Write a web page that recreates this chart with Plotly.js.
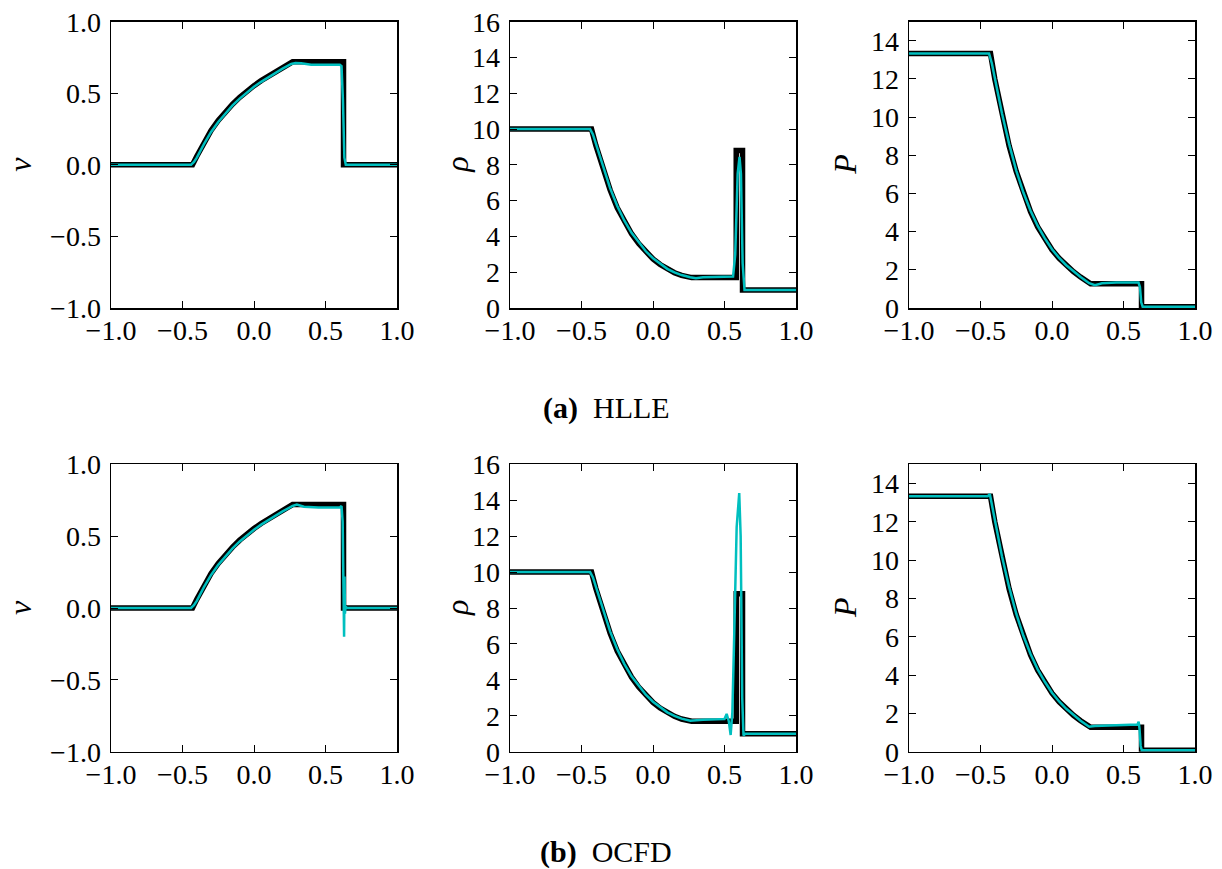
<!DOCTYPE html>
<html>
<head>
<meta charset="utf-8">
<script src="https://cdn.plot.ly/plotly-3.0.1.min.js"></script>
<style>html,body{margin:0;padding:0;background:#fff;}#chart{width:1222px;height:869px;}</style>
</head>
<body>
<div id="chart"></div>
<script>
// ---------- data ----------
// exact solution (black, thick) - same in both rows
const exactX   = [-1.0, -0.43, -0.40, -0.35, -0.30, -0.25, -0.20, -0.15, -0.10, -0.05, 0.0, 0.05, 0.10, 0.15, 0.20, 0.27, 0.582, 0.582, 0.626, 0.626, 1.0];
const exactV   = [0, 0, 0.06, 0.155, 0.24, 0.31, 0.37, 0.424, 0.472, 0.515, 0.553, 0.588, 0.62, 0.65, 0.679, 0.72, 0.72, 0.72, 0.72, 0, 0];
const exactRho = [10, 10, 9.1, 7.8, 6.6, 5.6, 4.8, 4.15, 3.6, 3.12, 2.74, 2.43, 2.17, 1.97, 1.82, 1.70, 1.70, 8.8, 8.8, 1.0, 1.0];
const exactP   = [13.33, 13.33, 12.0, 10.1, 8.5, 7.15, 6.0, 5.05, 4.25, 3.6, 3.05, 2.6, 2.22, 1.9, 1.62, 1.27, 1.27, 1.27, 1.27, 0.07, 0.07];

// HLLE numerical solution (cyan)
const hlleVX   = [-1.0, -0.44, -0.42, -0.40, -0.35, -0.30, -0.25, -0.20, -0.15, -0.10, -0.05, 0.0, 0.05, 0.10, 0.15, 0.20, 0.26, 0.29, 0.33, 0.40, 0.60, 0.612, 0.622, 0.632, 0.642, 1.0];
const hlleV    = [0, 0, 0.02, 0.05, 0.145, 0.23, 0.30, 0.36, 0.415, 0.463, 0.506, 0.545, 0.58, 0.612, 0.643, 0.672, 0.705, 0.712, 0.71, 0.70, 0.70, 0.69, 0.45, 0.05, 0, 0];
const hlleRhoX = [-1.0, -0.44, -0.42, -0.40, -0.35, -0.30, -0.25, -0.20, -0.15, -0.10, -0.05, 0.0, 0.05, 0.10, 0.15, 0.20, 0.26, 0.30, 0.35, 0.45, 0.56, 0.575, 0.592, 0.605, 0.615, 0.627, 0.64, 1.0];
const hlleRho  = [10, 10, 9.7, 9.2, 7.9, 6.7, 5.7, 4.88, 4.2, 3.65, 3.17, 2.78, 2.46, 2.19, 1.99, 1.84, 1.72, 1.66, 1.72, 1.74, 1.76, 3.0, 7.5, 8.45, 7.5, 2.5, 1.0, 1.0];
const hllePX   = [-1.0, -0.44, -0.42, -0.40, -0.35, -0.30, -0.25, -0.20, -0.15, -0.10, -0.05, 0.0, 0.05, 0.10, 0.15, 0.20, 0.26, 0.30, 0.35, 0.45, 0.605, 0.615, 0.624, 0.634, 1.0];
const hlleP    = [13.33, 13.33, 12.8, 12.0, 10.2, 8.6, 7.2, 6.05, 5.1, 4.3, 3.65, 3.08, 2.62, 2.24, 1.91, 1.62, 1.3, 1.2, 1.3, 1.33, 1.33, 1.1, 0.3, 0.07, 0.07];

// OCFD numerical solution (cyan)
const ocfdVX   = [-1.0, -0.44, -0.42, -0.40, -0.35, -0.30, -0.25, -0.20, -0.15, -0.10, -0.05, 0.0, 0.05, 0.10, 0.15, 0.20, 0.27, 0.30, 0.35, 0.45, 0.60, 0.612, 0.62, 0.627, 0.630, 0.633, 0.636, 0.64, 0.65, 1.0];
const ocfdV    = [0, 0, 0.02, 0.05, 0.145, 0.23, 0.30, 0.36, 0.415, 0.463, 0.506, 0.545, 0.58, 0.612, 0.643, 0.672, 0.71, 0.72, 0.705, 0.70, 0.70, 0.71, 0.6, 0.05, -0.2, 0.22, -0.04, 0.01, 0, 0];
const ocfdRhoX = [-1.0, -0.44, -0.42, -0.40, -0.35, -0.30, -0.25, -0.20, -0.15, -0.10, -0.05, 0.0, 0.05, 0.10, 0.15, 0.20, 0.26, 0.30, 0.35, 0.45, 0.50, 0.515, 0.530, 0.543, 0.555, 0.568, 0.585, 0.603, 0.613, 0.624, 0.633, 0.645, 1.0];
const ocfdRho  = [10, 10, 9.7, 9.2, 7.9, 6.7, 5.7, 4.88, 4.2, 3.65, 3.17, 2.78, 2.46, 2.19, 1.99, 1.84, 1.72, 1.75, 1.78, 1.8, 1.82, 2.1, 1.7, 0.93, 2.2, 6.5, 12.5, 14.4, 12.0, 3.0, 0.9, 1.0, 1.0];
const ocfdPX   = [-1.0, -0.45, -0.435, -0.42, -0.40, -0.35, -0.30, -0.25, -0.20, -0.15, -0.10, -0.05, 0.0, 0.05, 0.10, 0.15, 0.20, 0.26, 0.30, 0.40, 0.55, 0.598, 0.606, 0.612, 0.62, 0.628, 1.0];
const ocfdP    = [13.33, 13.33, 13.45, 12.9, 12.0, 10.2, 8.6, 7.2, 6.05, 5.1, 4.3, 3.65, 3.08, 2.62, 2.24, 1.91, 1.62, 1.3, 1.34, 1.37, 1.39, 1.42, 1.57, 1.2, 0.3, 0.07, 0.07];

// tick labels
const xTickVals   = [-1, -0.5, 0, 0.5, 1];
const xTickLabels = ['\u22121.0', '\u22120.5', '0.0', '0.5', '1.0'];
const vTickVals   = [-1, -0.5, 0, 0.5, 1];
const vTickLabels = ['\u22121.0', '\u22120.5', '0.0', '0.5', '1.0'];
const rhoTickVals = [0, 2, 4, 6, 8, 10, 12, 14, 16];
const pTickVals   = [0, 2, 4, 6, 8, 10, 12, 14];
const yLabels     = ['<i>v</i>', '<i>\u03c1</i>', '<i>P</i>'];
const captions    = ['<b>(a)</b>\u00a0\u00a0HLLE', '<b>(b)</b>\u00a0\u00a0OCFD'];

// ---------- styling ----------
const BLACK = '#000000', CYAN = '#00BFBF';
const FONT = 'Liberation Serif, Times New Roman, serif';
const W = 1222, H = 869;

const colX = [[111, 397], [510, 796], [909, 1195]];
const rowY = [[21.7, 308], [464.3, 751.7]];

const exactYs = [exactV, exactRho, exactP];
const numX = [[hlleVX, hlleRhoX, hllePX], [ocfdVX, ocfdRhoX, ocfdPX]];
const numY = [[hlleV, hlleRho, hlleP], [ocfdV, ocfdRho, ocfdP]];

const traces = [];
const layout = {
  width: W, height: H,
  margin: {l: 0, r: 0, t: 0, b: 0},
  paper_bgcolor: '#fff', plot_bgcolor: '#fff',
  showlegend: false,
  font: {family: FONT, color: BLACK},
  annotations: []
};

const yConf = [
  {range: [-1, 1], tickvals: vTickVals, ticktext: vTickLabels},
  {range: [0, 16], tickvals: rhoTickVals, ticktext: rhoTickVals.map(String)},
  {range: [0, 15], tickvals: pTickVals, ticktext: pTickVals.map(String)}
];

let k = 0;
for (let r = 0; r < 2; r++) {
  for (let c = 0; c < 3; c++) {
    k++;
    const xa = 'x' + (k === 1 ? '' : k), ya = 'y' + (k === 1 ? '' : k);
    const xName = 'xaxis' + (k === 1 ? '' : k), yName = 'yaxis' + (k === 1 ? '' : k);
    traces.push({x: exactX, y: exactYs[c], xaxis: xa, yaxis: ya, type: 'scatter', mode: 'lines',
                 line: {color: BLACK, width: 5.5}, hoverinfo: 'skip'});
    traces.push({x: numX[r][c], y: numY[r][c], xaxis: xa, yaxis: ya, type: 'scatter', mode: 'lines',
                 line: {color: CYAN, width: 2.5}, hoverinfo: 'skip'});
    const common = {
      showgrid: false, zeroline: false, showline: true, linecolor: BLACK, linewidth: 1.5,
      mirror: 'ticks', ticks: 'inside', ticklen: 7, tickwidth: 1, tickcolor: BLACK,
      tickfont: {family: FONT, size: 28, color: BLACK}
    };
    layout[xName] = Object.assign({}, common, {
      domain: [colX[c][0] / W, colX[c][1] / W], anchor: ya,
      range: [-1, 1], tickvals: xTickVals, ticktext: xTickLabels, tickmode: 'array',
      ticklabelstandoff: -3
    });
    layout[yName] = Object.assign({}, common, {
      domain: [1 - rowY[r][1] / H, 1 - rowY[r][0] / H], anchor: xa,
      range: yConf[c].range, tickvals: yConf[c].tickvals, ticktext: yConf[c].ticktext, tickmode: 'array',
      ticklabelstandoff: 3
    });
    const labX = [20, 457, 845][c];
    layout.annotations.push({
      text: yLabels[c], xref: 'paper', yref: 'paper', showarrow: false,
      x: labX / W, y: 1 - ((rowY[r][0] + rowY[r][1]) / 2) / H,
      xanchor: 'center', yanchor: 'middle', textangle: -90,
      font: {family: FONT, size: 32, color: BLACK}
    });
  }
  layout.annotations.push({
    text: captions[r], xref: 'paper', yref: 'paper', showarrow: false,
    x: 606 / W, y: 1 - [408, 852][r] / H, xanchor: 'center', yanchor: 'middle',
    font: {family: FONT, size: 30, color: BLACK}
  });
}

Plotly.newPlot('chart', traces, layout, {staticPlot: true, displayModeBar: false});
</script>
</body>
</html>
